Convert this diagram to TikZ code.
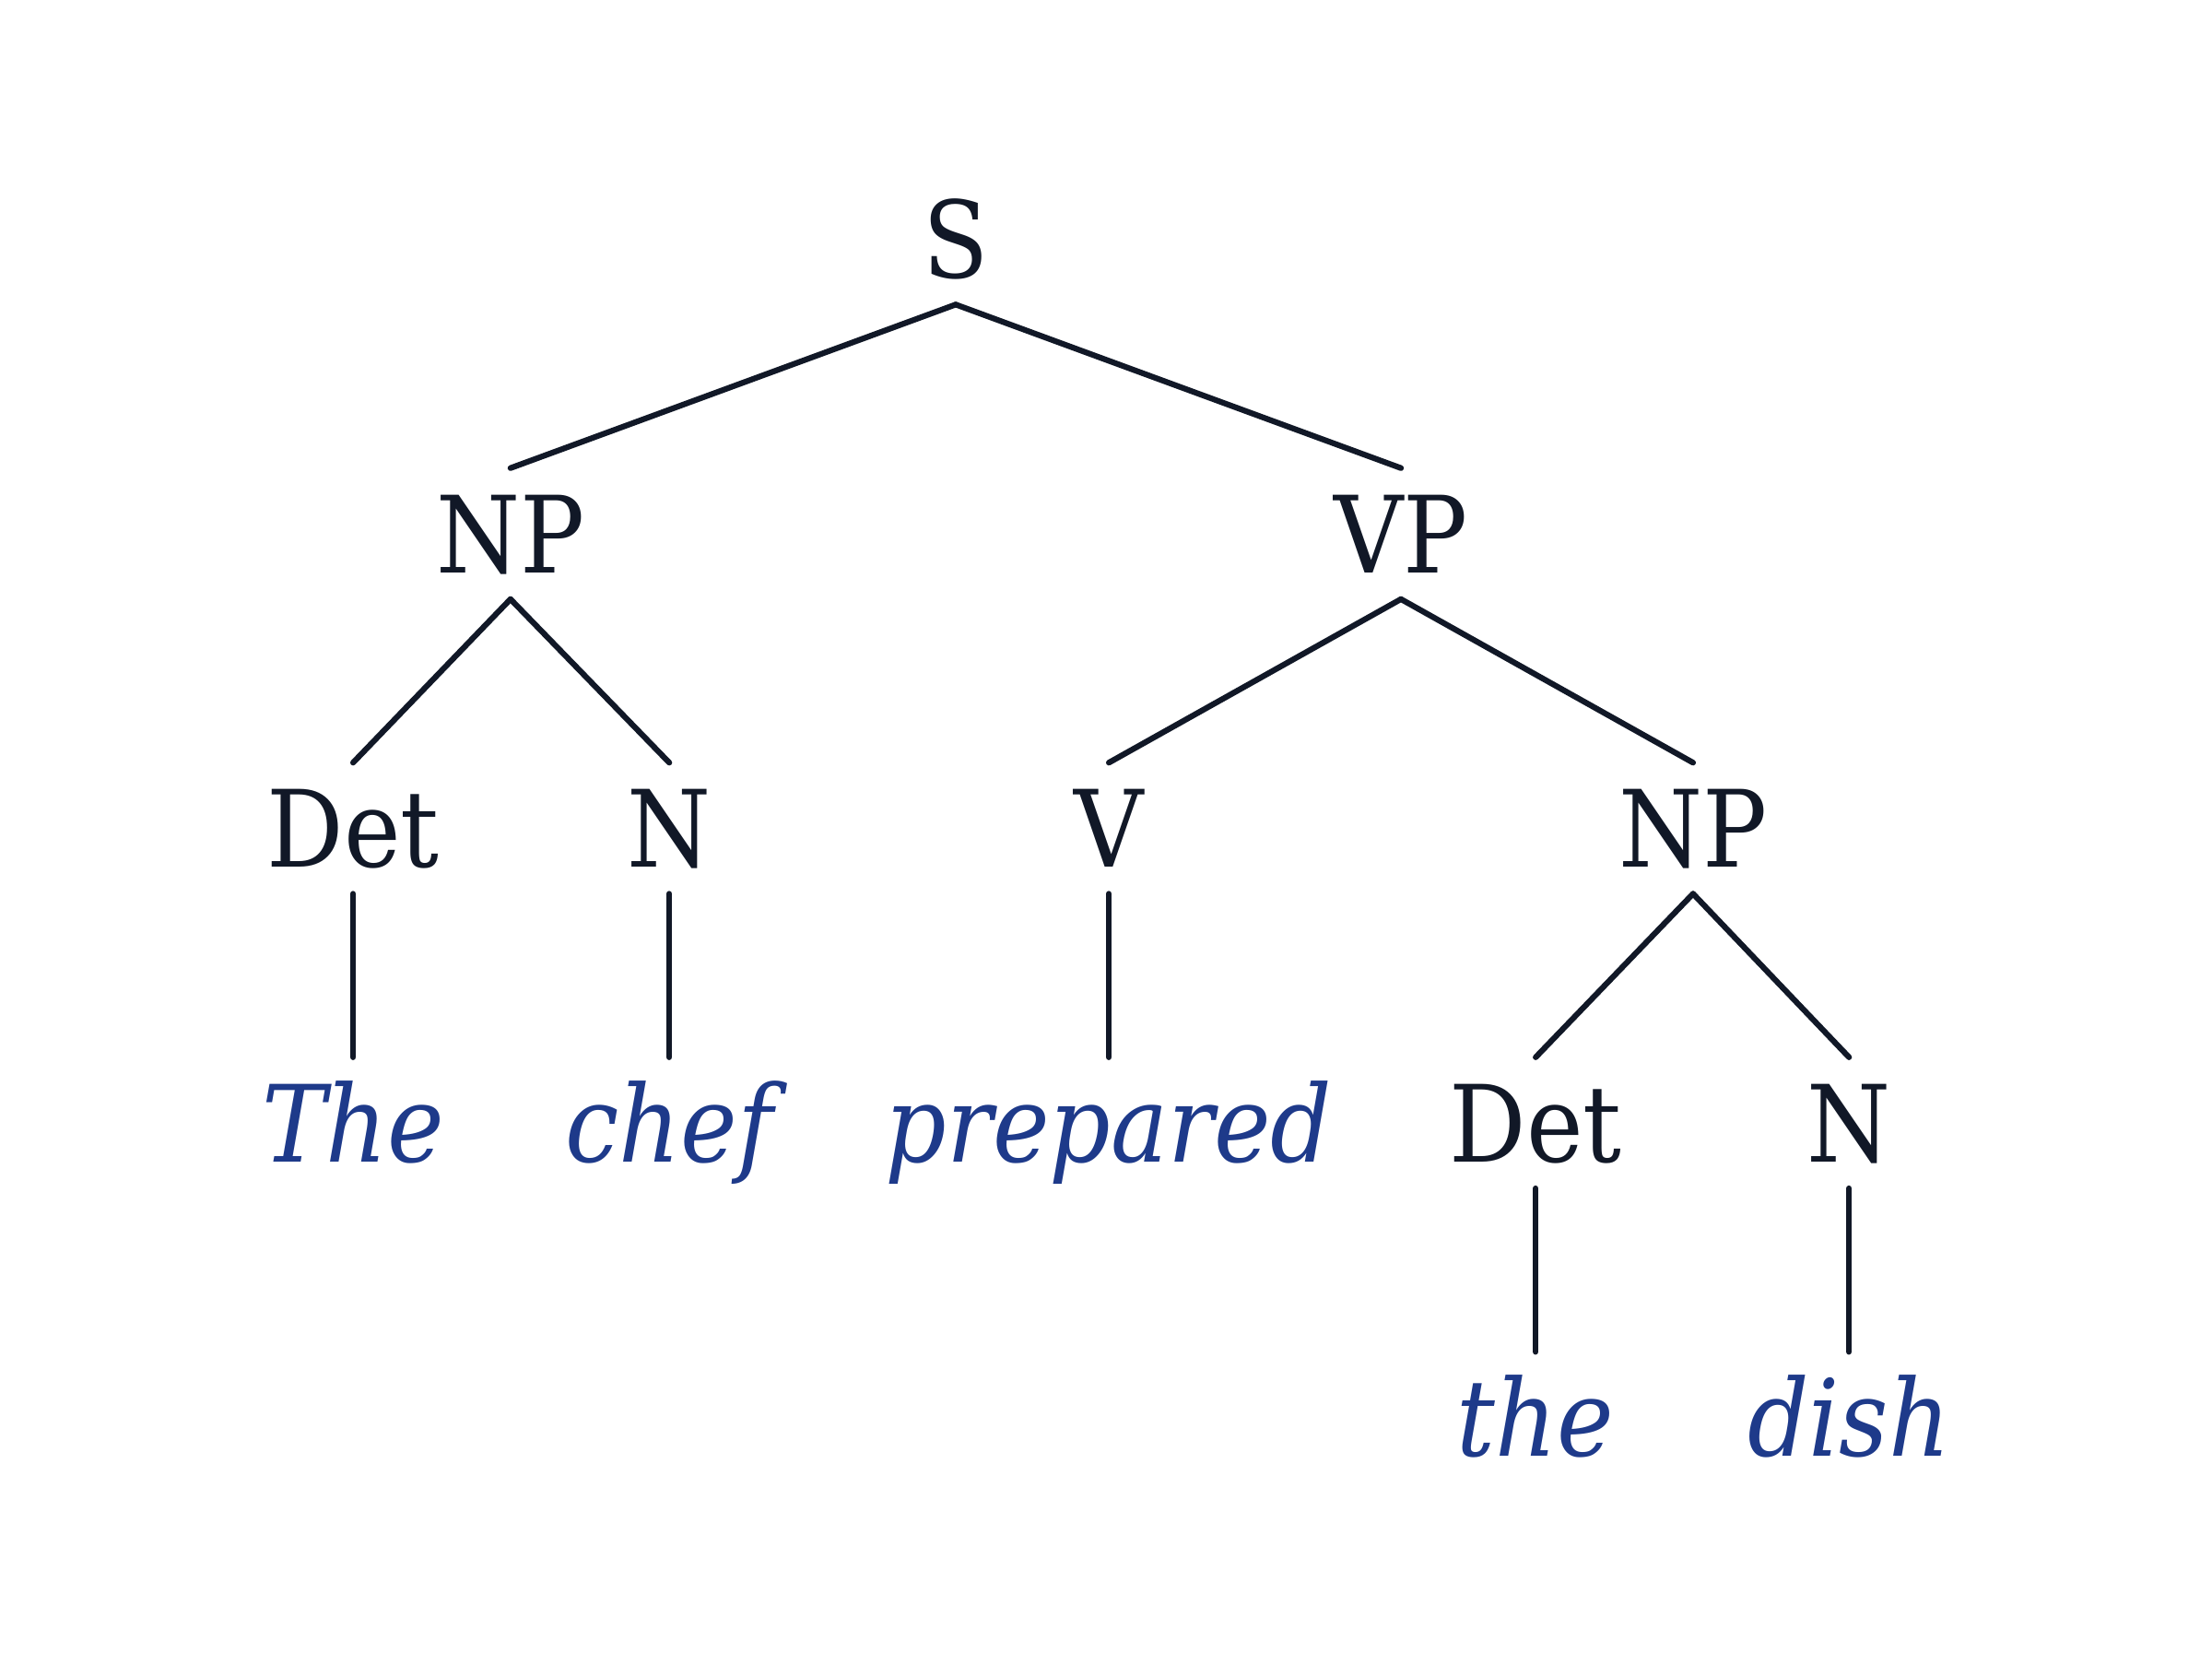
\documentclass[tikz,border=0pt]{standalone}
\usepackage{fontspec}
\setmainfont{DejaVu Serif Condensed}
\definecolor{ink}{HTML}{111827}
\definecolor{wordblue}{HTML}{1E3A8A}
\tikzset{
    tag/.style={anchor=base, text=ink, text height=0.55cm, text depth=0pt,
        inner xsep=0pt, inner ysep=0.18cm, font=\fontsize{21.4}{25}\selectfont},
    word/.style={tag, text=wordblue, font=\fontsize{21.4}{25}\selectfont\itshape},
    branch/.style={draw=ink, line width=1.15pt, line cap=round}
}
\begin{document}
\begin{tikzpicture}
\useasboundingbox (0,0) rectangle (15.6,-11.65);
\node[tag] (S) at (6.74,-1.96) {S};
\node[tag] (NPa) at (3.60,-4.037) {NP};
\node[tag] (VP) at (9.88,-4.037) {VP};
\node[tag] (Deta) at (2.49,-6.114) {Det};
\node[tag] (Na) at (4.72,-6.114) {N};
\node[tag] (V) at (7.82,-6.114) {V};
\node[tag] (NPb) at (11.94,-6.114) {NP};
\node[word] (The) at (2.49,-8.191) {The};
\node[word] (chef) at (4.72,-8.191) {chef};
\node[word] (prepared) at (7.82,-8.191) {prepared};
\node[tag] (Detb) at (10.83,-8.191) {Det};
\node[tag] (Nb) at (13.04,-8.191) {N};
\node[word] (the) at (10.83,-10.268) {the};
\node[word] (dish) at (13.04,-10.268) {dish};
\foreach \a/\b in {S/NPa, S/VP, NPa/Deta, NPa/Na, VP/V, VP/NPb,
    Deta/The, Na/chef, V/prepared, NPb/Detb, NPb/Nb, Detb/the, Nb/dish}
{
    \draw[branch] (\a.south) -- (\b.north);
}
\end{tikzpicture}
\end{document}
